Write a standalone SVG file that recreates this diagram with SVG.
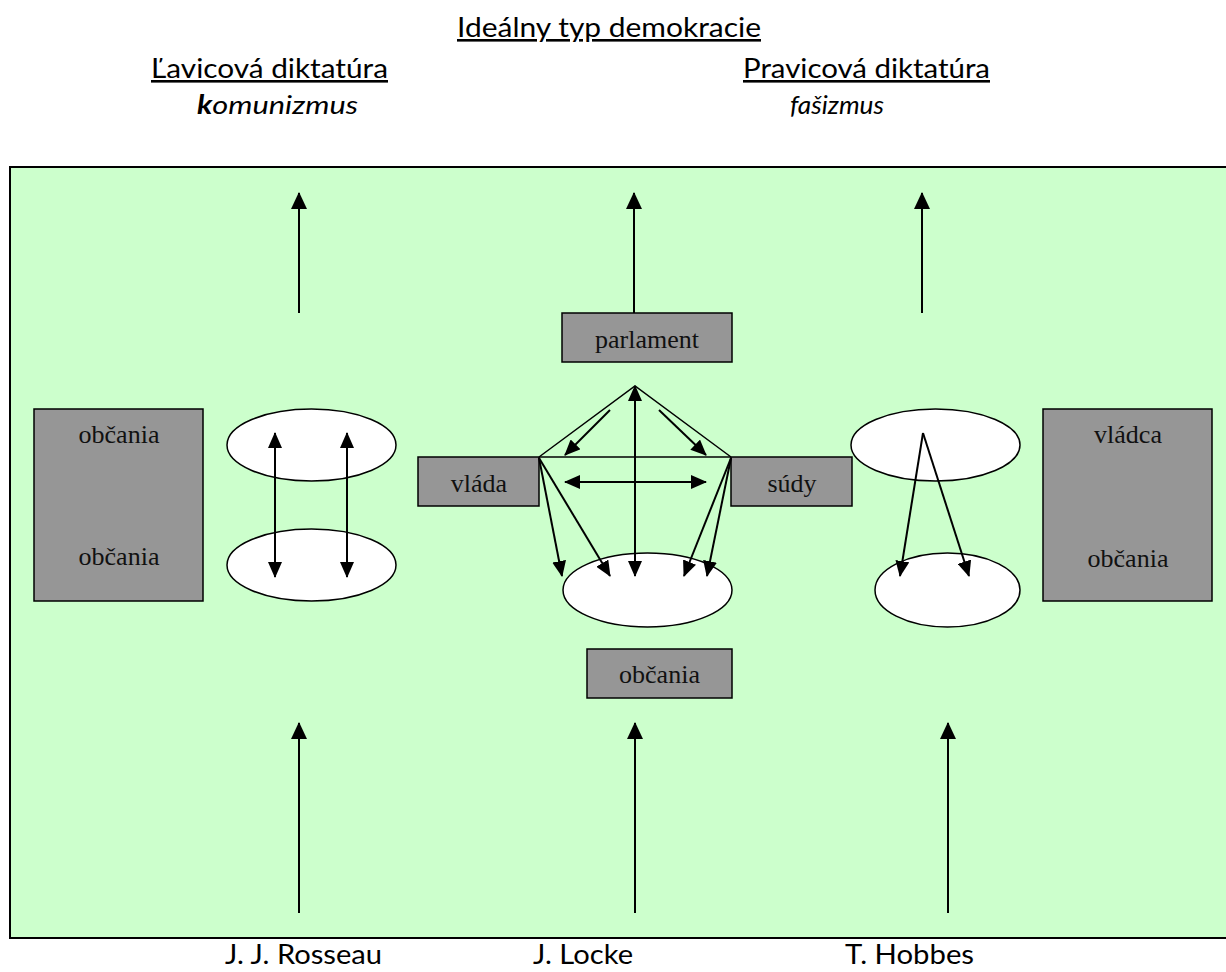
<svg xmlns="http://www.w3.org/2000/svg" width="1226" height="972" viewBox="0 0 1226 972">
<style>
.hd{font-family:Lato,"Liberation Sans",sans-serif;font-size:26px;fill:#000}
.ul{text-decoration:underline}
.it{font-style:italic}
.bx{fill:#969696;stroke:#000;stroke-width:1.5}
.el{fill:#fff;stroke:#000;stroke-width:1.5}
.lb{font-family:"Liberation Serif",serif;font-size:26px;fill:#111;text-anchor:middle}
.ln{stroke:#000;stroke-width:2;fill:none}
.thin{stroke:#000;stroke-width:1.5;fill:none}
</style>
<defs>
<marker id="ah" markerUnits="userSpaceOnUse" markerWidth="16" markerHeight="14" refX="15" refY="7" orient="auto-start-reverse" viewBox="0 0 16 14">
<path d="M0,0 L16,7 L0,14 Z" fill="#000"/>
</marker>
<marker id="ahb" markerUnits="userSpaceOnUse" markerWidth="17" markerHeight="16" refX="16" refY="8" orient="auto" viewBox="0 0 17 16">
<path d="M0,0 L17,8 L0,16 Z" fill="#000"/>
</marker>
</defs>
<rect x="0" y="0" width="1226" height="972" fill="#fff"/>
<g id="titles">
<text class="hd ul" x="457" y="37" textLength="304" lengthAdjust="spacingAndGlyphs">Ideálny typ demokracie</text>
<text class="hd ul" x="151" y="78" textLength="237" lengthAdjust="spacingAndGlyphs">Ľavicová diktatúra</text>
<text class="hd it" x="197" y="114" textLength="161" lengthAdjust="spacingAndGlyphs"><tspan font-weight="bold">k</tspan>omunizmus</text>
<text class="hd ul" x="743" y="78" textLength="247" lengthAdjust="spacingAndGlyphs">Pravicová diktatúra</text>
<text class="hd it" x="790" y="114" textLength="94" lengthAdjust="spacingAndGlyphs">fašizmus</text>
</g>
<rect id="panel" x="10" y="167" width="1230" height="771" fill="#CCFFCC" stroke="#000" stroke-width="2"/>
<g id="left-box"><rect class="bx" x="34" y="409" width="169" height="192"/><text class="lb" x="119" y="443">občania</text><text class="lb" x="119" y="565">občania</text></g>
<g id="left-ellipse-top"><ellipse class="el" cx="311.5" cy="445" rx="84.5" ry="36"/></g>
<g id="left-ellipse-bottom"><ellipse class="el" cx="311.5" cy="565" rx="84.5" ry="36"/></g>
<g id="parlament"><rect class="bx" x="562" y="313" width="170" height="49"/><text class="lb" x="647" y="348">parlament</text></g>
<g id="vlada"><rect class="bx" x="418" y="457" width="121" height="49"/><text class="lb" x="479" y="492">vláda</text></g>
<g id="sudy"><rect class="bx" x="731" y="457" width="121" height="49"/><text class="lb" x="792" y="492">súdy</text></g>
<g id="center-ellipse"><ellipse class="el" cx="647.5" cy="590" rx="84.5" ry="37"/></g>
<g id="obcania-center"><rect class="bx" x="587" y="649" width="145" height="49"/><text class="lb" x="659.5" y="683">občania</text></g>
<g id="right-ellipse-top"><ellipse class="el" cx="935.5" cy="445" rx="84.5" ry="36"/></g>
<g id="right-ellipse-bottom"><ellipse class="el" cx="947.5" cy="590" rx="72.5" ry="37"/></g>
<g id="right-box"><rect class="bx" x="1043" y="409" width="169" height="192"/><text class="lb" x="1128" y="443">vládca</text><text class="lb" x="1128" y="567">občania</text></g>
<g id="connectors">
<line class="ln" x1="299" y1="313" x2="299" y2="193" marker-end="url(#ahb)"/>
<line class="ln" x1="634" y1="313" x2="634" y2="193" marker-end="url(#ahb)"/>
<line class="ln" x1="922" y1="313" x2="922" y2="193" marker-end="url(#ahb)"/>
<line class="ln" x1="299" y1="913" x2="299" y2="723" marker-end="url(#ahb)"/>
<line class="ln" x1="635" y1="913" x2="635" y2="723" marker-end="url(#ahb)"/>
<line class="ln" x1="948" y1="913" x2="948" y2="723" marker-end="url(#ahb)"/>
<line class="ln" x1="275" y1="433" x2="275" y2="577" marker-start="url(#ah)" marker-end="url(#ah)"/>
<line class="ln" x1="347" y1="433" x2="347" y2="577" marker-start="url(#ah)" marker-end="url(#ah)"/>
<polyline class="thin" points="539,457 635,386 731,457"/>
<line class="thin" x1="539" y1="457" x2="731" y2="457"/>
<line class="ln" x1="610" y1="410" x2="565" y2="455" marker-end="url(#ah)"/>
<line class="ln" x1="659" y1="410" x2="706" y2="455" marker-end="url(#ah)"/>
<line class="ln" x1="635" y1="386" x2="635" y2="576" marker-start="url(#ah)" marker-end="url(#ah)"/>
<line class="ln" x1="565" y1="482" x2="706" y2="482" marker-start="url(#ah)" marker-end="url(#ah)"/>
<line class="ln" x1="539" y1="458" x2="562" y2="576" marker-end="url(#ah)"/>
<line class="ln" x1="539" y1="458" x2="610" y2="576" marker-end="url(#ah)"/>
<line class="ln" x1="731" y1="458" x2="684" y2="576" marker-end="url(#ah)"/>
<line class="ln" x1="731" y1="458" x2="707" y2="576" marker-end="url(#ah)"/>
<line class="ln" x1="923" y1="433" x2="900" y2="576" marker-end="url(#ah)"/>
<line class="ln" x1="923" y1="433" x2="969" y2="576" marker-end="url(#ah)"/>
</g>
<g id="authors">
<text class="hd" x="225" y="964" textLength="157" lengthAdjust="spacingAndGlyphs">J. J. Rosseau</text>
<text class="hd" x="533" y="964" textLength="100" lengthAdjust="spacingAndGlyphs">J. Locke</text>
<text class="hd" x="845" y="964" textLength="129" lengthAdjust="spacingAndGlyphs">T. Hobbes</text>
</g>
</svg>
